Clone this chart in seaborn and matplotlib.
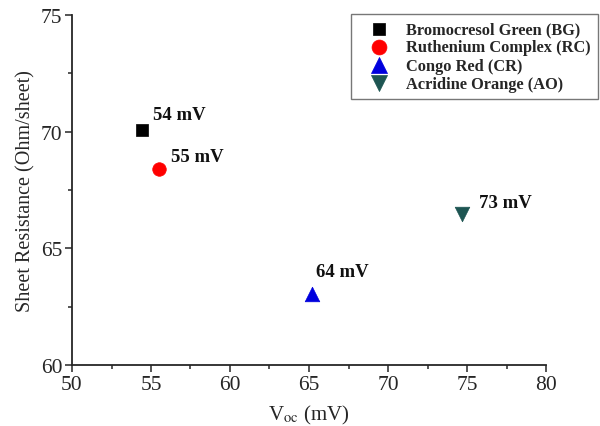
import pandas as pd
import matplotlib
matplotlib.use("Agg")
import matplotlib.pyplot as plt
import seaborn as sns
from matplotlib.ticker import MultipleLocator

# ---------------------------------
# DATA
# ---------------------------------

dyes = ["Bromocresol Green (BG)", "Ruthenium Complex (RC)",
        "Congo Red (CR)", "Acridine Orange (AO)"]
voc = [54.4, 55.5, 65.2, 74.7]
sheet_res = [70.05, 68.38, 63.05, 66.45]
point_labels = ["54 mV", "55 mV", "64 mV", "73 mV"]
label_offsets = [(8, 8), (9, 6), (3, 13), (12, 5)]

colors = ["#000000", "#ff0000", "#0000dd", "#1d5552"]
markers = ["s", "o", "^", "v"]
sizes = [70, 95, 110, 110]

df = pd.DataFrame({"Dye": dyes, "Voc": voc, "R": sheet_res})

# ---------------------------------
# STYLE
# ---------------------------------

sns.set_style("ticks")
plt.rcParams["font.family"] = ["Liberation Serif", "DejaVu Serif"]
plt.rcParams["mathtext.fontset"] = "stix"

fig = plt.figure(figsize=(6, 4.27), dpi=100)
ax = fig.add_axes([0.12, 0.143, 0.79, 0.82])

for i, d in enumerate(dyes):
    sns.scatterplot(
        data=df[df["Dye"] == d], x="Voc", y="R",
        color=colors[i], marker=markers[i], s=sizes[i],
        edgecolor=colors[i], linewidth=0.5, label=d, ax=ax
    )

for i in range(len(dyes)):
    ax.annotate(point_labels[i], (voc[i], sheet_res[i]),
                xytext=label_offsets[i], textcoords="offset points",
                fontsize=13.5, fontweight="bold", color="#111111")

ax.set_xlim(50, 80)
ax.set_ylim(60, 75)
ax.xaxis.set_major_locator(MultipleLocator(5))
ax.xaxis.set_minor_locator(MultipleLocator(2.5))
ax.yaxis.set_major_locator(MultipleLocator(5))
ax.yaxis.set_minor_locator(MultipleLocator(2.5))
ax.tick_params(which="major", length=5, width=1.1, labelsize=15.5,
               direction="out", pad=2)
ax.tick_params(which="minor", length=3, width=1.1, direction="out")
for sp in ["top", "right"]:
    ax.spines[sp].set_visible(False)
for sp in ["left", "bottom"]:
    ax.spines[sp].set_linewidth(1.3)

ax.set_xlabel(r"V$_{\rm oc}$ (mV)", fontsize=15, labelpad=7)
ax.set_ylabel("Sheet Resistance (Ohm/sheet)", fontsize=14.5, labelpad=4)

leg = ax.legend(loc="upper right", bbox_to_anchor=(0.997, 0.965),
                bbox_transform=fig.transFigure, borderaxespad=0,
                prop={"family": ["Liberation Serif"], "weight": "bold", "size": 11.8},
                frameon=True, fancybox=False, edgecolor="#555555",
                markerscale=1.1, handletextpad=0.4, borderpad=0.45,
                labelspacing=0.13, handlelength=2.5)
leg.get_frame().set_linewidth(1.0)

fig.savefig("out.png", dpi=100)
